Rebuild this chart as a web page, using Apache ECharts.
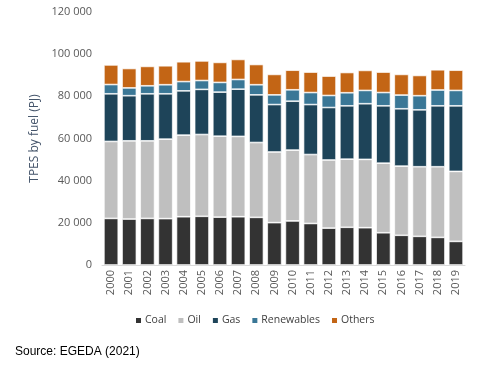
<!DOCTYPE html>
<html>
<head>
<meta charset="utf-8">
<script src="https://cdn.jsdelivr.net/npm/echarts@6/dist/echarts.min.js"></script>
<style>html,body{margin:0;padding:0;background:#fff;}#c{width:479px;height:367px;}</style>
</head>
<body>
<div id="c"></div>
<script>
const years = ['2000','2001','2002','2003','2004','2005','2006','2007','2008','2009','2010','2011','2012','2013','2014','2015','2016','2017','2018','2019'];
const coal = [22100,21800,22100,22000,22900,23100,22700,22900,22600,20100,20900,19700,17500,17900,17700,15300,14100,13600,13100,11200];
const oil = [36500,37100,36800,37700,38700,38800,38400,38100,35500,33500,33600,32700,32300,32300,32400,33000,32800,33000,33500,33200];
const gas = [22600,21400,22300,21500,21000,21400,20900,22400,22600,22500,23200,23700,24900,25300,26400,27200,27200,27000,28900,31100];
const renewables = [4400,3700,3800,4300,4400,4200,4600,4600,4800,4600,5400,5700,5700,6200,6300,6300,6500,6700,7500,7300];
const others = [9300,9200,9200,9000,9400,9300,9500,9500,9600,9700,9300,9700,9200,9600,9500,9700,9800,9600,9600,9600];
const yTicks = [0,20000,40000,60000,80000,100000,120000];

const names = ['Coal','Oil','Gas','Renewables','Others'];
const colors = ['#333333','#bfbfbf','#1e4459','#3a7796','#c36515'];
const datas = [coal, oil, gas, renewables, others];

const chart = echarts.init(document.getElementById('c'));
chart.setOption({
  animation: false,
  color: colors,
  title: {
    text: 'Source: EGEDA (2021)',
    left: 10, top: 341,
    textStyle: {fontFamily: 'Liberation Sans', fontSize: 12, fontWeight: 'normal', color: '#000'}
  },
  legend: {
    data: names,
    left: 129, top: 310,
    itemWidth: 7, itemHeight: 7, itemGap: 10,
    icon: 'rect',
    textStyle: {fontFamily: 'Open Sans', fontSize: 10.5, color: '#404040', padding: [0,0,0,-2]}
  },
  grid: {left: 102, right: 14, top: 12, bottom: 102, containLabel: false},
  xAxis: {
    type: 'category',
    data: years,
    axisLine: {lineStyle: {color: '#d9d9d9'}},
    axisTick: {show: false},
    axisLabel: {rotate: 90, color: '#595959', fontFamily: 'Open Sans', fontSize: 11, margin: 5}
  },
  yAxis: {
    type: 'value',
    min: 0, max: 120000, interval: 20000,
    name: 'TPES by fuel (PJ)',
    nameLocation: 'middle',
    nameGap: 51,
    nameTextStyle: {color: '#44546a', fontFamily: 'Open Sans', fontSize: 12},
    splitLine: {show: false},
    axisLine: {show: false},
    axisTick: {show: false},
    axisLabel: {
      color: '#595959', fontFamily: 'Open Sans', fontSize: 11, margin: 10,
      formatter: v => yTicks.includes(v) ? String(v).replace(/\B(?=(\d{3})+(?!\d))/g, ' ') : ''
    }
  },
  series: names.map((n, i) => ({
    name: n,
    type: 'bar',
    stack: 'total',
    data: datas[i],
    barCategoryGap: '21%',
    itemStyle: {borderColor: '#ffffff', borderWidth: 0.7}
  }))
});
</script>
</body>
</html>
